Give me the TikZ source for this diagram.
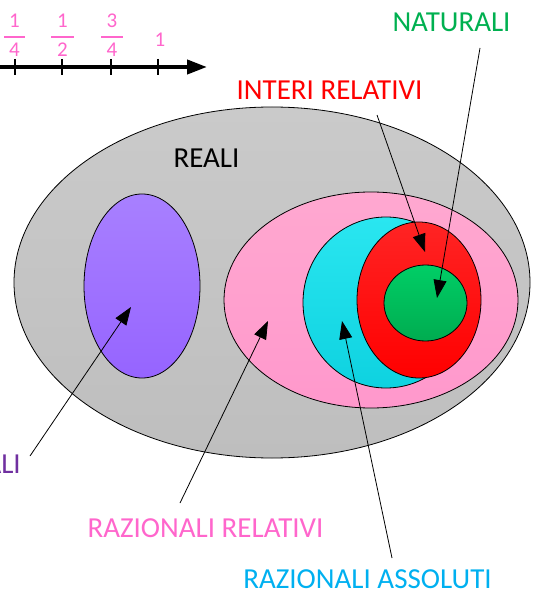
\documentclass[tikz,border=0pt]{standalone}
\usepackage{fontspec}
\setmainfont{Carlito}
\usetikzlibrary{shapes.geometric,arrows.meta}
\definecolor{fracpink}{HTML}{FF66CC}
\definecolor{natgreen}{HTML}{00B050}
\definecolor{irrpurple}{HTML}{7030A0}
\definecolor{assblue}{HTML}{00B0F0}
\begin{document}
\begin{tikzpicture}[x=1pt,y=-1pt,
  set/.style={ellipse, draw=black, line width=0.8pt, inner sep=0pt},
  lbl/.style={font=\fontsize{29}{32}\selectfont, inner sep=0pt, anchor=base},
  fracnum/.style={font=\fontsize{21}{23}\selectfont, inner sep=0pt, anchor=base, text=fracpink},
  pointer/.style={line width=0.8pt, -{Triangle[length=18pt,width=13pt]}},
  tick/.style={line width=1.5pt},
  fracbar/.style={line width=2pt, draw=fracpink},
]
\useasboundingbox (0,0) rectangle (533,593);

% sets
\node[set, minimum width=516pt, minimum height=351pt, top color={rgb,255:red,202;green,202;blue,202}, bottom color={rgb,255:red,190;green,190;blue,190}] (reali) at (272,282.5) {};
\node[set, minimum width=116pt, minimum height=184pt, top color={rgb,255:red,168;green,128;blue,255}, bottom color={rgb,255:red,150;green,100;blue,255}] (irr) at (142,286) {};
\node[set, minimum width=294pt, minimum height=216pt, top color={rgb,255:red,255;green,168;blue,208}, bottom color={rgb,255:red,255;green,152;blue,204}] (razrel) at (371,300) {};
\node[set, minimum width=166pt, minimum height=171pt, top color={rgb,255:red,42;green,230;blue,240}, bottom color={rgb,255:red,14;green,210;blue,224}] (razass) at (386,302.5) {};
\node[set, minimum width=124pt, minimum height=156pt, top color={rgb,255:red,255;green,36;blue,36}, bottom color={rgb,255:red,255;green,0;blue,0}] (interi) at (419,300) {};
\node[set, minimum width=83pt, minimum height=76pt, top color={rgb,255:red,0;green,206;blue,102}, bottom color={rgb,255:red,0;green,172;blue,80}] (nat) at (425.5,303) {};

% labels
\node[lbl, text=natgreen] (lnat) at (451.5,32) {NATURALI};
\node[lbl, text=red] (lint) at (329.5,100) {INTERI RELATIVI};
\node[lbl, text=black] (lreali) at (206.5,168) {REALI};
\node[lbl, text=irrpurple, anchor=base east] (lirr) at (21,473) {ALI};
\node[lbl, text=fracpink] (lrel) at (205.5,537) {RAZIONALI RELATIVI};
\node[lbl, text=assblue] (lass) at (367.5,588.5) {RAZIONALI ASSOLUTI};

% pointers
\coordinate (pnat0) at (480,48);   \coordinate (pnat1) at (437,298);
\coordinate (pint0) at (377,115);  \coordinate (pint1) at (425,252);
\coordinate (pirr0) at (30,456);   \coordinate (pirr1) at (131,307);
\coordinate (prel0) at (180,503);  \coordinate (prel1) at (268,321);
\coordinate (pass0) at (392,558);  \coordinate (pass1) at (342,321);
\draw[pointer] (pnat0) -- (pnat1);
\draw[pointer] (pint0) -- (pint1);
\draw[pointer] (pirr0) -- (pirr1);
\draw[pointer] (prel0) -- (prel1);
\draw[pointer] (pass0) -- (pass1);

% number line
\coordinate (nl0) at (-5,67);
\coordinate (nl1) at (207,67);
\draw[line width=4pt, -{Triangle[length=20pt,width=14pt]}] (nl0) -- (nl1);
\foreach \x in {15,62,111,158} \draw[tick] (\x,59) -- (\x,75);

% fractions
\node[fracnum] (n1) at (14.5,28) {1};
\draw[fracbar] (4,37) -- (25,37);
\node[fracnum] (d1) at (14.5,57) {4};
\node[fracnum] (n2) at (62.5,28) {1};
\draw[fracbar] (51,37) -- (74,37);
\node[fracnum] (d2) at (62.5,57) {2};
\node[fracnum] (n3) at (112,28) {3};
\draw[fracbar] (101,37) -- (123,37);
\node[fracnum] (d3) at (112,57) {4};
\node[fracnum] (one) at (160,47) {1};
\end{tikzpicture}
\end{document}
